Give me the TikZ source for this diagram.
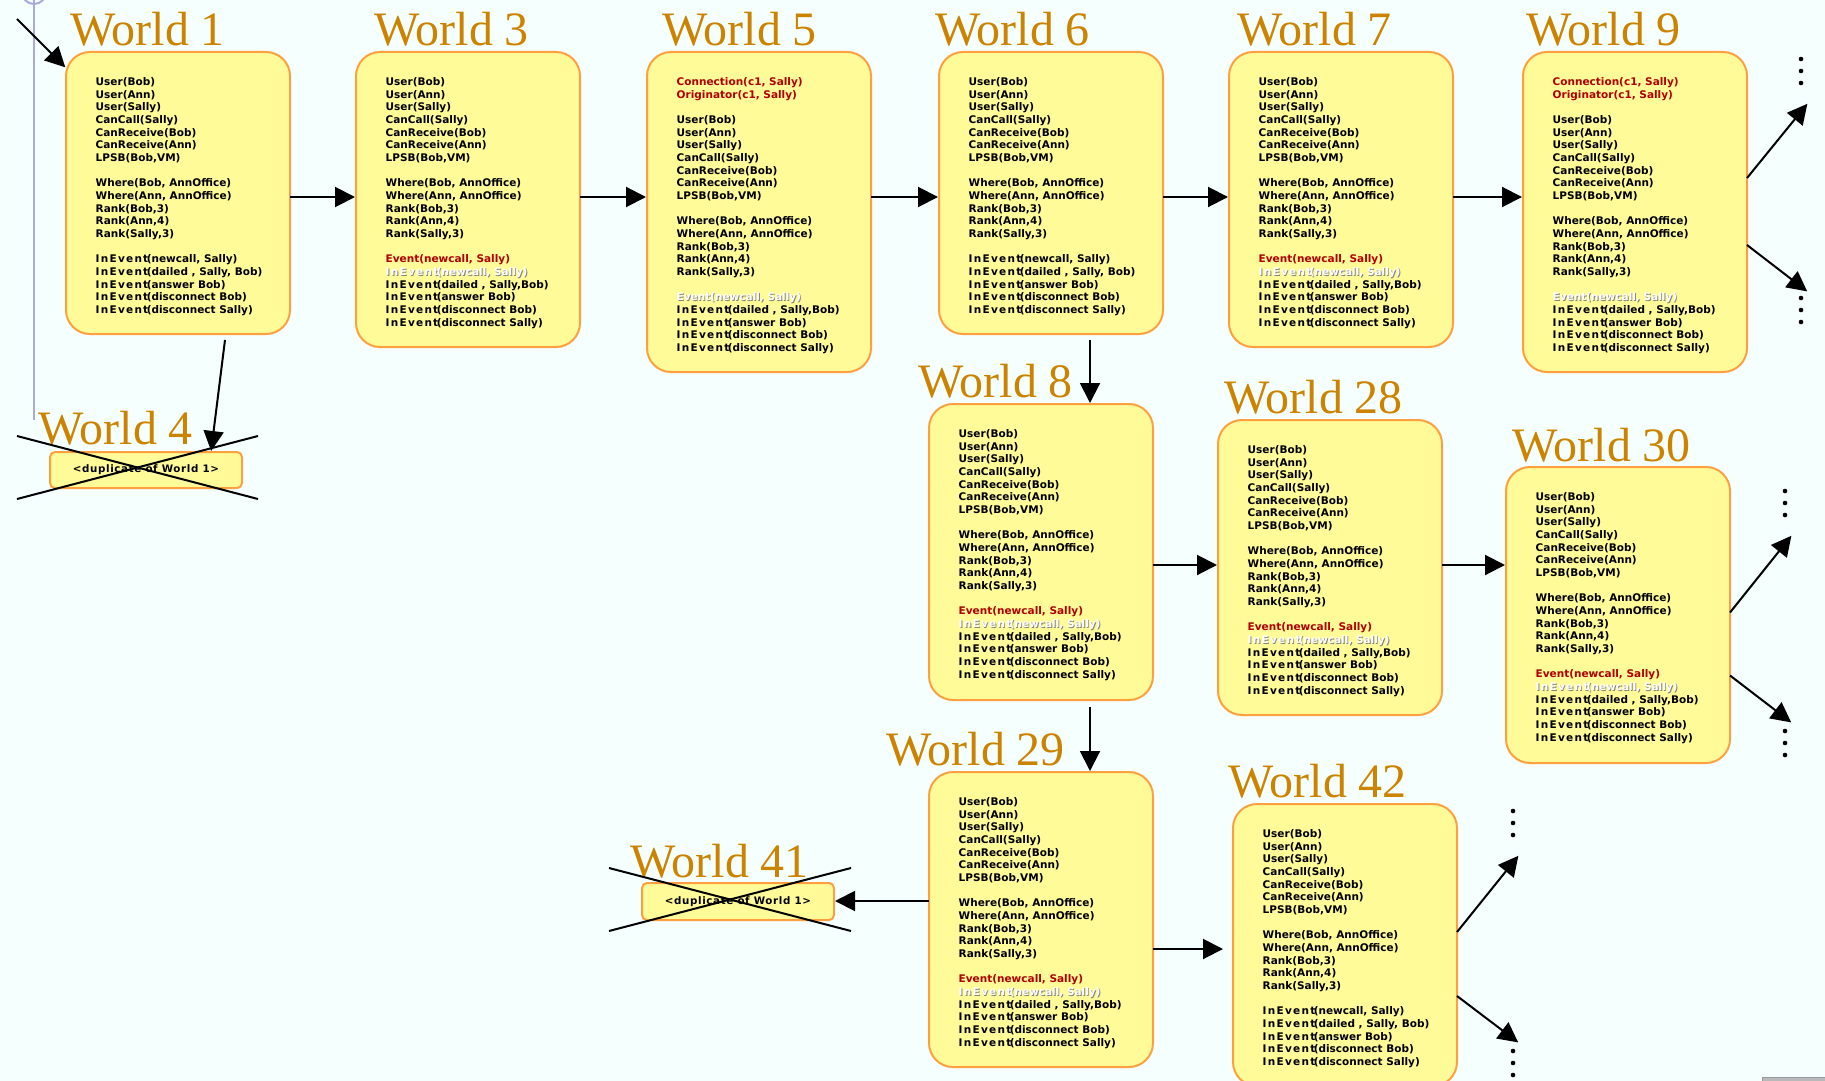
\documentclass[tikz,border=0pt]{standalone}
\usepackage{fontspec}
\usetikzlibrary{arrows.meta}

\newfontfamily\titlefont{Liberation Serif}
\newfontfamily\bodyfont{DejaVu Sans}
\newfontfamily\evfont{DejaVu Sans}[LetterSpace=12]
\newfontfamily\dupfont{DejaVu Sans}[LetterSpace=6]

\definecolor{bgcol}{HTML}{F5FFFE}
\definecolor{boxfill}{HTML}{FFFB99}
\definecolor{boxline}{HTML}{FFA040}
\definecolor{titlecol}{HTML}{CC8400}
\definecolor{factred}{HTML}{B00000}
\definecolor{ghostshade}{HTML}{858578}
\definecolor{purp}{HTML}{AAAADD}

% one line of a world's fact list
\newcommand\fact[1]{\hbox{#1}}
\newcommand\redfact[1]{\hbox{\color{factred}#1}}
\newcommand\ghostfact[1]{\hbox{\rlap{\kern0.9pt\lower0.9pt\hbox{\color{ghostshade}#1}}\color{white}#1}}
\newcommand\factgap{\hbox{}}
\newcommand\inev{{\evfont\bfseries InEvent}\kern-1.5pt(}

\newcommand\userfacts{%
  \fact{User(Bob)}\fact{User(Ann)}\fact{User(Sally)}\fact{CanCall(Sally)}%
  \fact{CanReceive(Bob)}\fact{CanReceive(Ann)}\fact{LPSB(Bob,VM)}\factgap
  \fact{Where(Bob, AnnOffice)}\fact{Where(Ann, AnnOffice)}%
  \fact{Rank(Bob,3)}\fact{Rank(Ann,4)}\fact{Rank(Sally,3)}\factgap}
\newcommand\factsA{\userfacts
  \fact{\inev newcall, Sally)}\fact{\inev dailed , Sally, Bob)}%
  \fact{\inev answer Bob)}\fact{\inev disconnect Bob)}\fact{\inev disconnect Sally)}}
\newcommand\factsB{\userfacts
  \redfact{Event(newcall, Sally)}\ghostfact{\inev newcall, Sally)}%
  \fact{\inev dailed , Sally,Bob)}\fact{\inev answer Bob)}%
  \fact{\inev disconnect Bob)}\fact{\inev disconnect Sally)}}
\newcommand\factsC{%
  \redfact{Connection(c1, Sally)}\redfact{Originator(c1, Sally)}\factgap
  \userfacts
  \ghostfact{Event(newcall, Sally)}%
  \fact{\inev dailed , Sally,Bob)}\fact{\inev answer Bob)}%
  \fact{\inev disconnect Bob)}\fact{\inev disconnect Sally)}}
\newcommand\factlist[1]{\vtop{\baselineskip=12.67pt\lineskiplimit=-100pt\lineskip=0pt #1}}

% a world box with its fact list: name, top-left corner, height, facts
\newcommand\placeworld[4]{%
  \node[world, minimum height=#3] (#1) at (#2) {};
  \node[facts] (#1-txt) at ([xshift=29.5pt,yshift=-33.5pt]#1.north west) {\factlist{#4}};
}

\tikzset{
  world/.style={draw=boxline, fill=boxfill, line width=2pt, rounded corners=24pt,
    minimum width=224pt, inner sep=0pt, outer sep=0pt, anchor=north west},
  dupbox/.style={draw=boxline, fill=boxfill, line width=2pt, rounded corners=5pt,
    minimum width=192pt, inner sep=0pt, outer sep=0pt, anchor=north west,
    font=\dupfont\bfseries\fontsize{10.3}{12}\selectfont},
  wtitle/.style={anchor=base west, inner sep=0pt, text=titlecol,
    font=\titlefont\fontsize{48}{48}\selectfont},
  facts/.style={anchor=base west, inner sep=0pt,
    font=\bodyfont\bfseries\fontsize{10.5}{12.67}\selectfont},
  arr/.style={line width=2pt, -{Triangle[length=20pt,width=20pt]}, shorten >=1pt},
  cross/.style={line width=2pt},
  dot/.style={fill=black},
}

\begin{document}
\begin{tikzpicture}[x=1pt, y=-1pt]
  \useasboundingbox (0,0) rectangle (1825,1081);
  \clip (0,0) rectangle (1825,1081);
  \fill[bgcol] (0,0) rectangle (1825,1081);

  % guide line with its handle
  \draw[purp, line width=2pt] (34,-20) -- (34,420);
  \draw[purp, line width=2pt] (34,-8) circle (12pt);

  % helper coordinates for the connector rows and column
  \coordinate (row1) at (0,197);
  \coordinate (row2) at (0,565);
  \coordinate (row3) at (0,901);
  \coordinate (row4) at (0,949);
  \coordinate (col1) at (1090,0);
  \coordinate (s0) at (17,19);

  % top row
  \placeworld{w1}{66,52}{282pt}{\factsA}
  \placeworld{w3}{356,52}{295pt}{\factsB}
  \placeworld{w5}{647,52}{320pt}{\factsC}
  \placeworld{w6}{939,52}{282pt}{\factsA}
  \placeworld{w7}{1229,52}{295pt}{\factsB}
  \placeworld{w9}{1523,52}{320pt}{\factsC}
  % middle row
  \placeworld{w8}{929,404}{296pt}{\factsB}
  \placeworld{w28}{1218,420}{295pt}{\factsB}
  \placeworld{w30}{1506,467}{296pt}{\factsB}
  % bottom row
  \placeworld{w29}{929,772}{295pt}{\factsB}
  \placeworld{w42}{1233,804}{282pt}{\factsA}

  % duplicates
  \node[dupbox, minimum height=36pt] (w4) at (50,452) {<duplicate of World 1>};
  \node[dupbox, minimum height=37pt] (w41) at (642,883) {<duplicate of World 1>};

  % titles
  \node[wtitle] (t1) at (70,46) {World 1};
  \node[wtitle] (t3) at (374,46) {World 3};
  \node[wtitle] (t5) at (662,46) {World 5};
  \node[wtitle] (t6) at (935,46) {World 6};
  \node[wtitle] (t7) at (1237,46) {World 7};
  \node[wtitle] (t9) at (1526,46) {World 9};
  \node[wtitle] (t4) at (38,444) {World 4};
  \node[wtitle] (t8) at (918,397) {World 8};
  \node[wtitle] (t28) at (1224,413) {World 28};
  \node[wtitle] (t30) at (1512,461) {World 30};
  \node[wtitle] (t29) at (886,765) {World 29};
  \node[wtitle] (t41) at (630,877) {World 41};
  \node[wtitle] (t42) at (1228,797) {World 42};

  % strike-outs over the duplicates
  \coordinate (x4a) at (17,436);  \coordinate (x4b) at (258,499);
  \coordinate (x4c) at (17,499);  \coordinate (x4d) at (258,436);
  \draw[cross] (x4a) -- (x4b);
  \draw[cross] (x4c) -- (x4d);
  \coordinate (x41a) at (609,868); \coordinate (x41b) at (851,931);
  \coordinate (x41c) at (609,931); \coordinate (x41d) at (851,868);
  \draw[cross] (x41a) -- (x41b);
  \draw[cross] (x41c) -- (x41d);

  % transitions
  \draw[arr] (s0) -- ([yshift=-16pt]w1.north west);
  \draw[arr] ([xshift=47pt,yshift=-6pt]w1.south) -- ([xshift=-31pt]w4.north east);
  \foreach \a/\b in {w1/w3, w3/w5, w5/w6, w6/w7, w7/w9}
    \draw[arr] (\a.east |- row1) -- (\b.west |- row1);
  \draw[arr] ([yshift=-6pt]w6.south -| col1) -- (w8.north -| col1);
  \draw[arr] ([yshift=-7pt]w8.south -| col1) -- (w29.north -| col1);
  \draw[arr] (w8.east |- row2) -- (w28.west |- row2);
  \draw[arr] (w28.east |- row2) -- (w30.west |- row2);
  \draw[arr] (w29.west |- row3) -- (w41.east |- row3);
  \draw[arr, shorten >=10pt] (w29.east |- row4) -- (w42.west |- row4);

  % open branches
  \coordinate (n9a) at (1808,103);  \coordinate (n9b) at (1808,292);
  \coordinate (n30a) at (1792,535); \coordinate (n30b) at (1792,723);
  \coordinate (n42a) at (1519,855); \coordinate (n42b) at (1519,1043);
  \draw[arr] ([yshift=34pt]w9.east) -- (n9a);
  \draw[arr] ([yshift=-33pt]w9.east) -- (n9b);
  \draw[arr] ([yshift=2.5pt]w30.east) -- (n30a);
  \draw[arr] ([yshift=-60.5pt]w30.east) -- (n30b);
  \draw[arr] ([yshift=13pt]w42.east) -- (n42a);
  \draw[arr] ([yshift=-51pt]w42.east) -- (n42b);

  % continuation dots
  \foreach \x/\y in {1801/59, 1801/71, 1801/83, 1801/298, 1801/310, 1801/322,
                     1785/491, 1785/503, 1785/515, 1785/731, 1785/743, 1785/755,
                     1513/811, 1513/823, 1513/835, 1513/1051, 1513/1063, 1513/1075}
    \fill[dot] (\x,\y) circle (2.3pt);

  % scroll handle in the corner
  \fill[gray!55] (1762,1077) rectangle (1830,1090);
  \draw[gray!80] (1762,1077) rectangle (1830,1090);
\end{tikzpicture}
\end{document}
